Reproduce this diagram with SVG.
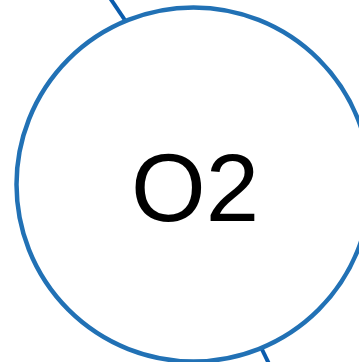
<svg xmlns="http://www.w3.org/2000/svg" width="359" height="362" viewBox="0 0 359 362">
<style>
.edge{stroke:#0b5cad;stroke-width:4;fill:none}
.node circle{fill:#fff;stroke:#2171b5;stroke-width:4.5}
.node text{font-family:"Liberation Sans",Arial,sans-serif;font-size:96px;fill:#000;text-anchor:middle}
</style>
<rect width="359" height="362" fill="#fff"/>
<g id="connectors">
<line class="edge" x1="108" y1="-5" x2="135" y2="35"/>
<line class="edge" x1="255" y1="335" x2="272" y2="370"/>
</g>
<g id="O2" class="node">
<circle cx="193.5" cy="184.5" r="177"/>
<text x="195" y="221">O2</text>
</g>
</svg>
